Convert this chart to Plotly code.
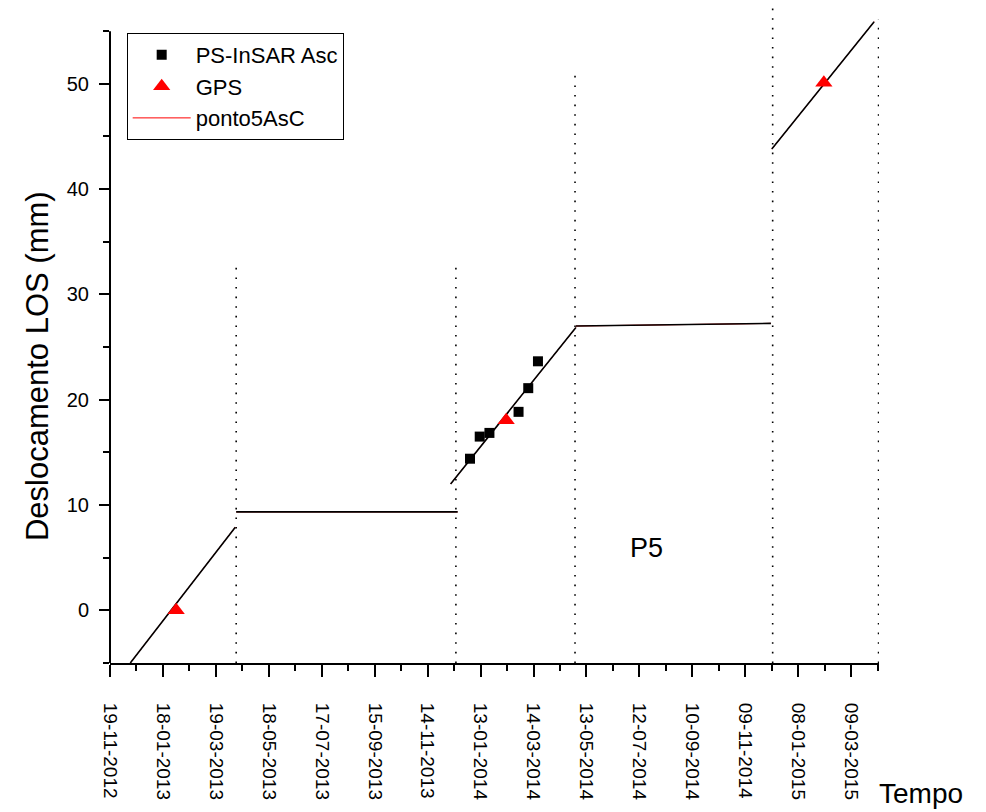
import plotly.graph_objects as go

# InSAR ascending points (PS-InSAR Asc)
insar_dates = ["2014-01-01", "2014-01-12", "2014-01-23", "2014-02-25", "2014-03-08", "2014-03-19"]
insar_vals = [14.4, 16.5, 16.85, 18.85, 21.1, 23.65]

# GPS points
gps_dates = ["2013-02-02", "2014-02-11", "2015-02-06"]
gps_vals = [0.0, 18.05, 50.1]

# piecewise fit (ponto5AsC), one start/end pair per segment
seg_start_dates = ["2012-12-12", "2013-04-11", "2013-12-10", "2014-05-01", "2014-12-09"]
seg_start_vals = [-5.0, 9.35, 12.0, 27.0, 43.8]
seg_end_dates = ["2013-04-10", "2013-12-18", "2014-05-01", "2014-12-08", "2015-04-04"]
seg_end_vals = [7.9, 9.35, 26.85, 27.25, 55.9]

# dotted period boundaries
bound_dates = ["2013-04-11", "2013-12-16", "2014-04-30", "2014-12-10", "2015-04-09"]
bound_tops = [33.0, 32.8, 51.3, 57.2, 56.1]

FONT = "Arial, Liberation Sans, sans-serif"
DAY = 86400000

seg_x, seg_y = [], []
for x0, y0, x1, y1 in zip(seg_start_dates, seg_start_vals, seg_end_dates, seg_end_vals):
    seg_x += [x0, x1, None]
    seg_y += [y0, y1, None]

bx, by = [], []
for d, top in zip(bound_dates, bound_tops):
    bx += [d, d, None]
    by += [-5, top, None]

fig = go.Figure()
fig.add_trace(go.Scatter(x=bx, y=by, mode="lines", showlegend=False, hoverinfo="skip",
                         line=dict(color="black", width=1.6, dash="1.6px,8px")))
fig.add_trace(go.Scatter(x=seg_x, y=seg_y, mode="lines", name="ponto5AsC", legendrank=3,
                         line=dict(color="red", width=1)))
fig.add_trace(go.Scatter(x=seg_x, y=seg_y, mode="lines", showlegend=False,
                         line=dict(color="black", width=1.6)))
fig.add_trace(go.Scatter(x=insar_dates, y=insar_vals, mode="markers", name="PS-InSAR Asc", legendrank=1,
                         marker=dict(symbol="square", size=10, color="black")))
fig.add_trace(go.Scatter(x=gps_dates, y=gps_vals, mode="markers", name="GPS", legendrank=2,
                         marker=dict(symbol="triangle-up", size=15, color="red")))

fig.add_annotation(x="2014-07-20", y=5.9, text="P5", showarrow=False,
                   font=dict(size=27, color="black", family=FONT))
fig.add_annotation(xref="paper", x=0, xshift=-73, xanchor="center", yref="y", y=23.2,
                   text="Deslocamento LOS (mm)", textangle=-90, showarrow=False,
                   font=dict(size=31, color="black", family=FONT))
fig.add_annotation(xref="paper", x=1.0546, yref="paper", y=-0.1985, xanchor="center", yanchor="middle",
                   text="Tempo", showarrow=False, font=dict(size=28, color="black", family=FONT))

# y axis line only spans -5..55
fig.add_shape(type="line", xref="paper", x0=0, x1=0, yref="y", y0=-5, y1=55,
              line=dict(color="black", width=2))

fig.update_xaxes(
    type="date", range=["2012-11-19", "2015-04-09 12:00"],
    tick0="2012-11-19", dtick=60 * DAY, tickformat="%d-%m-%Y", tickangle=90,
    ticks="outside", ticklen=12, tickwidth=2, tickcolor="black", ticklabelstandoff=22,
    minor=dict(tick0="2012-11-19", dtick=30 * DAY, ticks="outside", ticklen=6, tickwidth=2, tickcolor="black"),
    showline=True, linecolor="black", linewidth=2, showgrid=False, zeroline=False,
    tickfont=dict(size=19, color="black", family=FONT),
)
fig.update_yaxes(
    range=[-5, 57.2], tick0=0, dtick=10,
    ticks="outside", ticklen=10, tickwidth=2, tickcolor="black", ticklabelstandoff=6,
    minor=dict(tick0=0, dtick=5, ticks="outside", ticklen=6, tickwidth=2, tickcolor="black"),
    showline=False, showgrid=False, zeroline=False,
    tickfont=dict(size=20, color="black", family=FONT),
)
fig.update_layout(
    width=978, height=804,
    margin=dict(l=102, r=107, t=0, b=149),
    paper_bgcolor="white", plot_bgcolor="white",
    font=dict(family=FONT, color="black"),
    legend=dict(x=0.0217, y=0.962, xanchor="left", yanchor="top",
                bordercolor="black", borderwidth=1, bgcolor="white",
                font=dict(size=22, color="black", family=FONT),
                itemwidth=58, tracegroupgap=0),
)
fig.write_html("out.html")
